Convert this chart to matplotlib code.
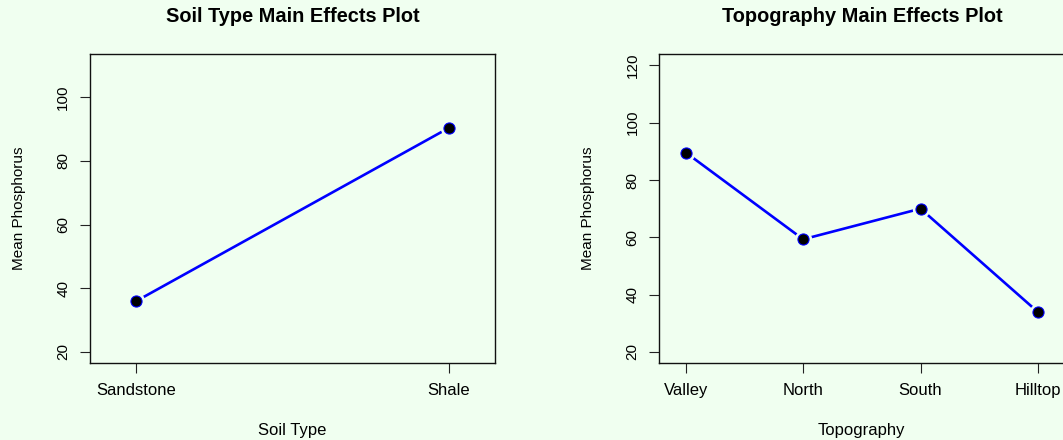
import matplotlib
matplotlib.use("Agg")
import matplotlib.pyplot as plt

plt.rcParams['font.family'] = ['Liberation Sans', 'DejaVu Sans']

# data
soil_types = ["Sandstone", "Shale"]
soil_means = [35.9, 90.4]

topo_types = ["Valley", "North", "South", "Hilltop"]
topo_means = [89.6, 59.3, 70.0, 33.9]

bg = '#F0FFF0'
W, H = 1063, 440

fig = plt.figure(figsize=(W / 100, H / 100), dpi=100)
fig.patch.set_facecolor(bg)

# axes boxes in pixels: left, right, top, bottom
top_px, bot_px = 54, 363.3
boxes = [(89.6, 495.3), (659.0, 1064.7)]


def main_effects(ax, cats, means, xlim, ylim, yticks, title, xlabel):
    x = list(range(1, len(cats) + 1))
    ax.set_facecolor(bg)
    # R type="b": line broken around the points
    ax.plot(x, means, color='blue', lw=1.9, zorder=2, solid_capstyle='butt')
    ax.plot(x, means, 'o', ms=11.5, color=bg, mec=bg, zorder=3)
    ax.plot(x, means, 'o', ms=8, mfc='black', mec='blue', mew=0.8, zorder=4)
    ax.set_xlim(*xlim)
    ax.set_ylim(*ylim)
    ax.set_xticks(x)
    ax.set_xticklabels(cats, fontsize=12)
    ax.set_yticks(yticks)
    ax.set_yticklabels([str(v) for v in yticks], fontsize=11, rotation=90, va='center')
    ax.tick_params(length=7, width=0.8, color='#222222', pad=7)
    for s in ax.spines.values():
        s.set_linewidth(1.0)
        s.set_color('#111111')
    ax.set_title(title, fontsize=14.4, fontweight='bold', y=1.12, va='center', pad=0)
    ax.set_xlabel(xlabel, fontsize=12, va='center')
    ax.set_ylabel("Mean Phosphorus", fontsize=11, va='center')
    ax.xaxis.set_label_coords(0.5, -0.216)
    ax.yaxis.set_label_coords(-0.175, 0.5)


axes = []
for l, r in boxes:
    axes.append(fig.add_axes([l / W, 1 - bot_px / H, (r - l) / W, (bot_px - top_px) / H]))

main_effects(axes[0], soil_types, soil_means, (0.852, 2.148), (16.4, 113.6),
             [20, 40, 60, 80, 100], "Soil Type Main Effects Plot", "Soil Type")
main_effects(axes[1], topo_types, topo_means, (0.772, 4.228), (16.0, 124.0),
             [20, 40, 60, 80, 100, 120], "Topography Main Effects Plot", "Topography")

fig.savefig("out.png", dpi=100, facecolor=bg)
